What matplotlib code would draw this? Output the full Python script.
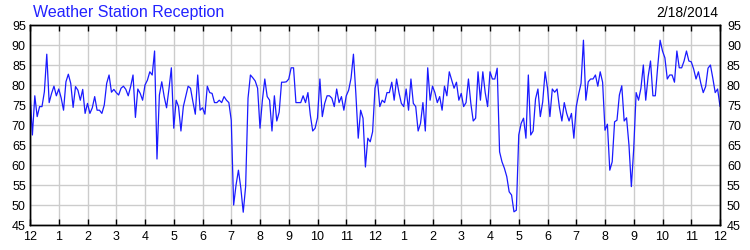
import numpy as np
import matplotlib
matplotlib.use("Agg")
import matplotlib.pyplot as plt

plt.rcParams['font.family'] = ['Liberation Sans', 'DejaVu Sans']

title = "Weather Station Reception"
date_label = "2/18/2014"

# signal reading every 5 minutes, midnight to midnight
reception = [
    78, 67.5, 77.3, 72.1, 74.6, 74.6, 78.3, 87.7, 75.6, 77.9, 79.7, 77.3,
    79, 76.8, 73.7, 80.8, 82.7, 80.4, 74.4, 79.6, 78.7, 76.2, 78.9, 72.9,
    75.4, 72.9, 74.3, 77.1, 73.7, 73.7, 72.9, 75, 80.4, 82.5, 78.2, 78.9,
    78.1, 77.5, 79.2, 79.7, 78.9, 77.3, 79.6, 82.5, 71.9, 79, 77.9, 76.2,
    80, 81.2, 83.3, 82.5, 88.5, 61.5, 77.5, 80.8, 77.1, 74.3, 79, 84.3,
    69.2, 76.2, 74.6, 68.5, 74.6, 77.1, 79.7, 79.2, 75.8, 72.7, 82.5, 73.7,
    74.3, 72.7, 79.7, 78.1, 77.9, 75.6, 75.6, 76.2, 75.6, 77.1, 76.2, 75.6,
    71.2, 50, 55, 58.7, 54.2, 48.2, 54.6, 76.7, 82.5, 81.8, 81, 79.2,
    69.2, 76.2, 81.5, 77.1, 76.2, 68.5, 77.3, 71, 73.2, 80.7, 80.7, 80.8,
    81.5, 84.3, 84.3, 75.6, 75.6, 75.6, 77.3, 75.6, 78.1, 72.5, 68.5, 69.2,
    71.8, 81.5, 72.1, 75.4, 77.3, 77.3, 76.7, 74.6, 79, 75.6, 77.1, 73.7,
    77.3, 78.7, 81.7, 87.7, 77.9, 66.7, 73.7, 71.7, 59.5, 66.7, 65.8, 68.3,
    79.2, 81.5, 74.6, 76.2, 75.6, 78.1, 78.1, 80.7, 76.2, 81.5, 78.1, 75.4,
    74.6, 79, 73.7, 81.5, 75.4, 74.6, 68.5, 70.4, 75.6, 68.5, 84.3, 76.2,
    79.7, 78.1, 75.6, 77.1, 73.7, 79.7, 77.3, 83.3, 81.2, 79.2, 80.7, 76.2,
    77.9, 74.6, 75.6, 81.5, 75.4, 71, 71.7, 83.3, 76.2, 83.3, 78.1, 74.6,
    83.3, 81.5, 81.5, 84.2, 63.3, 60.8, 59.2, 57.1, 53.3, 52.5, 48.3, 48.7,
    67.5, 70.4, 71.7, 66.7, 82.5, 67.5, 68.5, 76.5, 79, 72.1, 75.8, 83.3,
    79.2, 72.1, 79, 78.2, 79, 74.3, 71, 75.6, 72.9, 71, 72.9, 66.7,
    74.6, 77.7, 80.4, 91.2, 76.2, 80.8, 81.5, 81.5, 82.5, 79.7, 83.3, 80.7,
    68.7, 70.2, 58.7, 60.8, 70.8, 71.2, 77.5, 79.8, 71, 71.8, 65, 54.6,
    64.2, 78.1, 76.2, 79.2, 85, 76.2, 82.1, 86, 77.3, 77.3, 84.6, 91.2,
    88.5, 86.8, 81.5, 82.5, 82.5, 80.7, 88.5, 84.3, 84.3, 86, 88.5, 86,
    85.8, 84, 81.5, 83.3, 80.4, 78.1, 79.6, 84.2, 85, 81.7, 78.1, 79,
    74.7,
]
hours = np.arange(len(reception)) * 5 / 60

hour_labels = ["12"] + [str(h) for h in range(1, 12)] + ["12"] + \
    [str(h) for h in range(1, 12)] + ["12"]
y_ticks = list(range(45, 100, 5))

fig = plt.figure(figsize=(7.5, 2.5), dpi=100)
ax = fig.add_axes([0.04, 0.1, 0.92, 0.8])

ax.plot(hours, reception, color="#1a1aff", lw=0.9)

ax.set_xlim(0, 24)
ax.set_ylim(45, 95)
ax.set_xticks(range(25))
ax.set_xticklabels(hour_labels)
ax.set_yticks(y_ticks)
ax.grid(True, color="#cccccc", lw=1.0)
ax.set_axisbelow(True)

ax.tick_params(axis='x', direction='in', length=4, width=1, top=True,
               pad=4, labelsize=9)
ax.tick_params(axis='y', length=0, pad=3, labelsize=9)

# same scale repeated on the right side
ax2 = ax.twinx()
ax2.set_ylim(ax.get_ylim())
ax2.set_yticks(y_ticks)
ax2.tick_params(axis='y', length=0, pad=5, labelsize=9)

for a in (ax, ax2):
    for sp in a.spines.values():
        sp.set_linewidth(1.0)
        sp.set_color("black")

fig.text(33 / 750, 1 - 17 / 250, title, color="#2222ff", fontsize=11.5,
         ha="left", va="baseline")
fig.text(718 / 750, 1 - 17 / 250, date_label, color="black", fontsize=10,
         ha="right", va="baseline")

fig.savefig("out.png", dpi=100, facecolor="white")
